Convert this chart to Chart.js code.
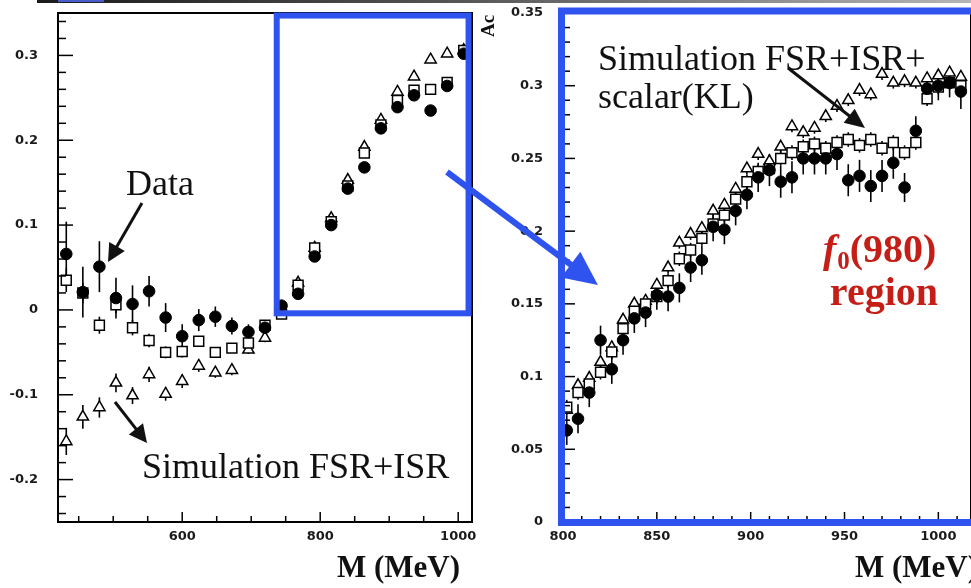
<!DOCTYPE html>
<html>
<head>
<meta charset="utf-8">
<script src="https://cdn.jsdelivr.net/npm/chart.js@4.4.0/dist/chart.umd.min.js"></script>
<style>
html,body{margin:0;padding:0;background:#fff;overflow:hidden;width:971px;height:588px;}
#wrapL{position:absolute;left:0;top:0;width:480px;height:588px;}
#wrapR{position:absolute;left:480px;top:0;width:491px;height:588px;}
#overlay{position:absolute;left:0;top:0;pointer-events:none;}
#topbar{position:absolute;left:37px;top:0;width:934px;height:3px;background:linear-gradient(to right,#1a1a1a,#555 45%,#b5b5b5 100%);}
#topblue{position:absolute;left:58px;top:0;width:46px;height:2px;background:#4a5ccc;}
</style>
</head>
<body>
<div id="wrapL"><canvas id="cL" width="480" height="588"></canvas></div>
<div id="wrapR"><canvas id="cR" width="491" height="588"></canvas></div>
<canvas id="overlay" width="971" height="588"></canvas>
<div id="topbar"></div><div id="topblue"></div>
<script>
// ---------------- DATA ----------------
// Left panel (wide mass range, 24 MeV bins)
const leftMass = [432,456,480,504,528,552,576,600,624,648,672,696,720,744,768,792,816,840,864,888,912,936,960,984,1008];
const leftData = [0.066,0.021,0.051,0.014,0.007,0.022,-0.009,-0.031,-0.012,-0.008,-0.019,-0.026,-0.021,0.005,0.019,0.063,0.100,0.143,0.168,0.214,0.239,0.253,0.235,0.264,0.302];
const leftDataErr = [0.038,0.030,0.030,0.024,0.022,0.018,0.017,0.014,0.013,0.012,0.010,0.009,0.008,0.007,0.006,0.006,0.005,0.005,0.005,0.005,0.005,0.005,0.005,0.005,0.005];
const leftScalar = [0.035,0.020,-0.018,0.006,-0.021,-0.036,-0.050,-0.049,-0.037,-0.050,-0.045,-0.039,-0.018,-0.005,0.029,0.073,0.104,0.146,0.185,0.218,0.247,0.259,0.260,0.268,0.306];
const leftScalarErr = [0.014,0.012,0.010,0.010,0.009,0.008,0.007,0.007,0.006,0.006,0.005,0.005,0.005,0.004,0.004,0.004,0.004,0.004,0.004,0.004,0.004,0.004,0.004,0.004,0.004];
const leftFsrIsr = [-0.155,-0.126,-0.115,-0.086,-0.101,-0.076,-0.099,-0.084,-0.066,-0.074,-0.071,-0.047,-0.033,-0.002,0.032,0.073,0.108,0.153,0.192,0.224,0.257,0.275,0.295,0.302,0.306];
const leftFsrIsrErr = [0.016,0.014,0.012,0.011,0.010,0.009,0.008,0.008,0.007,0.006,0.006,0.005,0.005,0.004,0.004,0.004,0.004,0.004,0.004,0.004,0.004,0.004,0.004,0.004,0.004];
const leftXTicks = [600,800,1000];
const leftXTickLabels = ['600','800','1000'];
const leftYTicks = [-0.2,-0.1,0,0.1,0.2,0.3];
const leftYTickLabels = ['-0.2','-0.1','0','0.1','0.2','0.3'];

// Right panel (zoom 800-1020 MeV, 6 MeV bins)
const rightMass = [802,808,814,820,826,832,838,844,850,856,862,868,874,880,886,892,898,904,910,916,922,928,934,940,946,952,958,964,970,976,982,988,994,1000,1006,1012];
const rightData = [0.063,0.071,0.089,0.125,0.105,0.125,0.140,0.144,0.156,0.155,0.161,0.175,0.180,0.203,0.201,0.214,0.225,0.237,0.242,0.234,0.237,0.250,0.250,0.250,0.253,0.235,0.238,0.231,0.238,0.247,0.230,0.269,0.298,0.300,0.302,0.296];
const rightDataErr = [0.010,0.010,0.010,0.010,0.010,0.010,0.010,0.010,0.010,0.010,0.010,0.010,0.010,0.010,0.010,0.010,0.010,0.010,0.011,0.011,0.011,0.011,0.011,0.011,0.011,0.011,0.011,0.011,0.011,0.011,0.010,0.010,0.010,0.010,0.010,0.012];
const rightScalar = [0.079,0.089,0.095,0.103,0.117,0.133,0.145,0.150,0.155,0.166,0.181,0.187,0.195,0.205,0.211,0.222,0.234,0.241,0.243,0.250,0.254,0.258,0.260,0.257,0.261,0.263,0.259,0.263,0.257,0.261,0.254,0.261,0.291,0.299,0.302,0.300];
const rightScalarErr = [0.005,0.005,0.005,0.005,0.005,0.005,0.005,0.005,0.005,0.005,0.005,0.005,0.005,0.005,0.005,0.005,0.005,0.005,0.005,0.005,0.005,0.005,0.005,0.005,0.005,0.005,0.005,0.005,0.005,0.005,0.005,0.005,0.005,0.005,0.005,0.005];
const rightFsrIsr = [0.077,0.094,0.099,0.110,0.120,0.139,0.150,0.152,0.163,0.175,0.192,0.198,0.202,0.214,0.218,0.229,0.243,0.253,0.248,0.258,0.272,0.268,0.271,0.279,0.286,0.290,0.297,0.294,0.308,0.302,0.303,0.302,0.305,0.307,0.309,0.306];
const rightFsrIsrErr = [0.004,0.004,0.004,0.004,0.004,0.004,0.004,0.004,0.004,0.004,0.004,0.004,0.004,0.004,0.004,0.004,0.004,0.004,0.004,0.004,0.004,0.004,0.004,0.004,0.004,0.004,0.004,0.004,0.004,0.004,0.004,0.004,0.004,0.004,0.004,0.004];
const rightXTicks = [800,850,900,950,1000];
const rightXTickLabels = ['800','850','900','950','1000'];
const rightYTicks = [0,0.05,0.1,0.15,0.2,0.25,0.3,0.35];
const rightYTickLabels = ['0','0.05','0.1','0.15','0.2','0.25','0.3','0.35'];

// ---------------- STYLE ----------------
const SERIF = '"Liberation Serif","Times New Roman",serif';
const TICKFONT = {family:'"DejaVu Sans",sans-serif', weight:'bold', size:13};
const BLUE = '#2f53ef';
const RED = '#c41e16';

function pts(xs, ys){ return xs.map((x,i)=>({x:x, y:ys[i]})); }

function drawArrow(ctx, x1, y1, x2, y2, lw, headLen, headHalf, color){
  const ang = Math.atan2(y2-y1, x2-x1);
  const bx = x2 - Math.cos(ang)*headLen, by = y2 - Math.sin(ang)*headLen;
  ctx.save();
  ctx.strokeStyle = color; ctx.fillStyle = color; ctx.lineWidth = lw; ctx.lineCap = 'butt';
  ctx.beginPath(); ctx.moveTo(x1,y1); ctx.lineTo(bx + Math.cos(ang)*2, by + Math.sin(ang)*2); ctx.stroke();
  ctx.beginPath();
  ctx.moveTo(x2,y2);
  ctx.lineTo(bx + Math.sin(ang)*headHalf, by - Math.cos(ang)*headHalf);
  ctx.lineTo(bx - Math.sin(ang)*headHalf, by + Math.cos(ang)*headHalf);
  ctx.closePath(); ctx.fill();
  ctx.restore();
}

const decor = {
  id: 'decor',
  beforeDatasetsDraw(chart, args, o){
    const ctx = chart.ctx, xs = chart.scales.x, ys = chart.scales.y, a = chart.chartArea;
    ctx.save();
    ctx.beginPath(); ctx.rect(a.left, a.top, a.width, a.height); ctx.clip();
    ctx.strokeStyle = '#000'; ctx.lineWidth = 1.6;
    chart.data.datasets.forEach(ds=>{
      if(!ds.errors) return;
      ds.data.forEach((p,i)=>{
        const e = ds.errors[i];
        const x = xs.getPixelForValue(p.x);
        ctx.beginPath();
        ctx.moveTo(x, ys.getPixelForValue(p.y - e));
        ctx.lineTo(x, ys.getPixelForValue(p.y + e));
        ctx.stroke();
      });
    });
    ctx.restore();
  },
  afterDatasetsDraw(chart, args, o){
    const ctx = chart.ctx, xs = chart.scales.x, ys = chart.scales.y, a = chart.chartArea;
    ctx.save();
    ctx.strokeStyle = '#000'; ctx.lineWidth = 2;
    ctx.strokeRect(a.left, a.top, a.width, a.height);
    ctx.lineWidth = 1.5;
    const line = (x1,y1,x2,y2)=>{ctx.beginPath();ctx.moveTo(x1,y1);ctx.lineTo(x2,y2);ctx.stroke();};
    const isMajor = (arr,v)=>arr.some(m=>Math.abs(m-v)<1e-7);
    for(let n=0;;n++){
      const v = o.yMinorStart + n*o.yMinorStep;
      if(v > ys.max + 1e-9) break;
      const y = ys.getPixelForValue(v);
      line(a.left, y, a.left + (isMajor(o.yMajor,v) ? o.yMajorLen : o.yMinorLen), y);
    }
    for(let n=0;;n++){
      const v = o.xMinorStart + n*o.xMinorStep;
      if(v > xs.max + 1e-9) break;
      const x = xs.getPixelForValue(v);
      line(x, a.bottom, x, a.bottom - (isMajor(o.xMajor,v) ? o.xMajorLen : o.xMinorLen));
    }
    if(o.blueBox){
      const b = o.blueBox;
      ctx.strokeStyle = BLUE; ctx.lineWidth = 6;
      const x0 = xs.getPixelForValue(b.x0), x1 = xs.getPixelForValue(b.x1);
      const y0 = ys.getPixelForValue(b.y0), y1 = ys.getPixelForValue(b.y1);
      ctx.strokeRect(x0, y1, x1-x0, y0-y1);
    }
    if(o.blueFrame){
      ctx.strokeStyle = BLUE; ctx.lineWidth = 7;
      ctx.strokeRect(a.left-1.5, a.top-2, a.width+40, a.height+2.5);
    }
    (o.arrows||[]).forEach(ar=>{
      drawArrow(ctx, xs.getPixelForValue(ar.from[0]), ys.getPixelForValue(ar.from[1]),
        xs.getPixelForValue(ar.to[0]), ys.getPixelForValue(ar.to[1]), ar.lw, ar.head, ar.half, ar.color);
    });
    (o.texts||[]).forEach(t=>{
      let x = xs.getPixelForValue(t.x);
      const y = ys.getPixelForValue(t.y);
      ctx.textBaseline = 'alphabetic'; ctx.textAlign = 'left';
      t.runs.forEach(r=>{
        ctx.font = r.font; ctx.fillStyle = r.color || '#111';
        ctx.fillText(r.text, x, y + (r.dy||0));
        x += ctx.measureText(r.text).width + (r.kern||0);
      });
    });
    if(o.xTitle){
      ctx.font = o.xTitle.font; ctx.fillStyle = '#111';
      ctx.textAlign = o.xTitle.align || 'right'; ctx.textBaseline = 'alphabetic';
      const tx = o.xTitle.align === 'left' ? a.left + o.xTitle.dx : a.right + o.xTitle.dx;
      ctx.fillText(o.xTitle.text, tx, a.bottom + o.xTitle.dy);
    }
    if(o.yTitle){
      ctx.save();
      ctx.translate(o.yTitle.x, o.yTitle.y);
      ctx.rotate(-Math.PI/2);
      ctx.font = o.yTitle.font; ctx.fillStyle = '#111';
      ctx.textAlign = 'left'; ctx.textBaseline = 'middle';
      ctx.fillText(o.yTitle.text, 0, 0);
      ctx.restore();
    }
    ctx.restore();
  }
};

function makeDatasets(mass, d, de, s, se, f, fe, rC, rS, rT){
  return [
    {label:'Data', data:pts(mass,d), errors:de, pointStyle:'circle', pointRadius:rC,
     backgroundColor:'#000', borderColor:'#000', borderWidth:1, order:0},
    {label:'Simulation FSR+ISR+scalar(KL)', data:pts(mass,s), errors:se, pointStyle:'rect', pointRadius:rS,
     backgroundColor:'#fff', borderColor:'#000', borderWidth:1.5, order:1},
    {label:'Simulation FSR+ISR', data:pts(mass,f), errors:fe, pointStyle:'triangle', pointRadius:rT,
     backgroundColor:'#fff', borderColor:'#000', borderWidth:1.5, order:2}
  ];
}

function noPad(s){ s.paddingTop = 0; s.paddingBottom = 0; s.paddingLeft = 0; s.paddingRight = 0; }

function scales(xmin,xmax,ymin,ymax,xt,xl,yt,yl,yWidth){
  return {
    x:{type:'linear', min:xmin, max:xmax,
       afterBuildTicks:s=>{s.ticks = xt.map(v=>({value:v}));},
       afterFit:s=>{s.height = 66; noPad(s);},
       grid:{display:false, drawTicks:false}, border:{display:false},
       ticks:{font:TICKFONT, color:'#1a1a1a', padding:7, autoSkip:false, maxRotation:0,
              callback:(v,i)=>xl[i]}},
    y:{type:'linear', min:ymin, max:ymax,
       afterBuildTicks:s=>{s.ticks = yt.map(v=>({value:v}));},
       afterFit:s=>{s.width = yWidth; noPad(s);},
       grid:{display:false, drawTicks:false}, border:{display:false},
       ticks:{font:TICKFONT, color:'#1a1a1a', padding:20, autoSkip:false,
              callback:(v,i)=>yl[i]}}
  };
}

const chartL = new Chart(document.getElementById('cL'), {
  type:'scatter',
  data:{datasets:makeDatasets(leftMass,leftData,leftDataErr,leftScalar,leftScalarErr,leftFsrIsr,leftFsrIsrErr,5.8,7,6.5)},
  options:{
    responsive:false, animation:false, devicePixelRatio:1,
    layout:{autoPadding:false, padding:{top:13,right:8,left:0,bottom:0}},
    scales:scales(420,1020,-0.25,0.35,leftXTicks,leftXTickLabels,leftYTicks,leftYTickLabels,58),
    plugins:{legend:{display:false}, tooltip:{enabled:false},
      decor:{
        yMajor:leftYTicks, yMinorStart:-0.24, yMinorStep:0.02, yMajorLen:15, yMinorLen:8,
        xMajor:leftXTicks, xMinorStart:450, xMinorStep:50, xMajorLen:10, xMinorLen:6,
        blueBox:{x0:737, x1:1015, y0:-0.004, y1:0.347},
        arrows:[
          {from:[541.7,0.126], to:[492.5,0.0565], lw:3, head:18, half:9, color:'#111'},
          {from:[502.6,-0.1086], to:[549,-0.1569], lw:3, head:18, half:9, color:'#111'}
        ],
        texts:[
          {x:518.6, y:0.1355, runs:[{text:'Data', font:'36px '+SERIF}]},
          {x:541.7, y:-0.1982, runs:[{text:'Simulation FSR+ISR', font:'36px '+SERIF}]}
        ],
        xTitle:{text:'M (MeV)', font:'bold 31px '+SERIF, dx:-12, dy:55}
      }}
  },
  plugins:[decor]
});

const chartR = new Chart(document.getElementById('cR'), {
  type:'scatter',
  data:{datasets:makeDatasets(rightMass,rightData,rightDataErr,rightScalar,rightScalarErr,rightFsrIsr,rightFsrIsrErr,5.8,7,6.5)},
  options:{
    responsive:false, animation:false, devicePixelRatio:1,
    layout:{autoPadding:false, padding:{top:13,right:0,left:0,bottom:0}},
    scales:scales(800,1017.4,0,0.35,rightXTicks,rightXTickLabels,rightYTicks,rightYTickLabels,83),
    plugins:{legend:{display:false}, tooltip:{enabled:false},
      decor:{
        yMajor:rightYTicks, yMinorStart:0, yMinorStep:0.01, yMajorLen:12, yMinorLen:7,
        xMajor:rightXTicks, xMinorStart:800, xMinorStep:10, xMajorLen:10, xMinorLen:6,
        blueFrame:true,
        arrows:[
          {from:[919.9,0.3122], to:[960.9,0.2709], lw:3, head:20, half:9, color:'#111'}
        ],
        texts:[
          {x:818.6, y:0.3108, runs:[{text:'Simulation FSR+ISR+', font:'36px '+SERIF}]},
          {x:818.6, y:0.2847, runs:[{text:'scalar(KL)', font:'36px '+SERIF}]},
          {x:938.5, y:0.1788, runs:[
            {text:'f', font:'italic bold 40px '+SERIF, color:RED, kern:1},
            {text:'0', font:'bold 25px '+SERIF, color:RED, dy:7},
            {text:'(980)', font:'bold 40px '+SERIF, color:RED}]},
          {x:942.2, y:0.1492, runs:[{text:'region', font:'bold 40px '+SERIF, color:RED}]}
        ],
        xTitle:{text:'M (MeV)', font:'bold 31px '+SERIF, align:'left', dx:292, dy:55},
        yTitle:{text:'Ac', font:'bold 19px '+SERIF, x:9, y:37}
      }}
  },
  plugins:[decor]
});

// Blue arrow linking the two panels (anchored in each panel's data coordinates)
(function(){
  const ov = document.getElementById('overlay').getContext('2d');
  const offR = 480;
  const x1 = chartL.scales.x.getPixelForValue(983.8), y1 = chartL.scales.y.getPixelForValue(0.1626);
  const x2 = offR + chartR.scales.x.getPixelForValue(818.6), y2 = chartR.scales.y.getPixelForValue(0.163);
  drawArrow(ov, x1, y1, x2, y2, 6, 34, 16, BLUE);
})();
</script>
</body>
</html>
